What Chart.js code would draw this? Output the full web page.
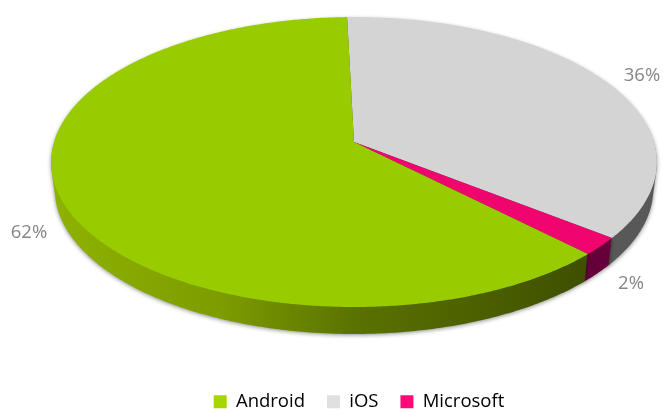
<!DOCTYPE html>
<html>
<head>
<meta charset="utf-8">
<style>
  html,body{margin:0;padding:0;background:#fff;}
  #chart{display:block;}
</style>
<script src="https://cdn.jsdelivr.net/npm/chart.js@4"></script>
</head>
<body>
<canvas id="chart" width="663" height="412"></canvas>
<script>
const platforms = ['Android','iOS','Microsoft'];
const shares = [62,36,2];

const topColors = ['#99cc00','#d4d4d4','#f0056f'];
const legendColors = ['#a6d600','#e0e0e0','#ff0a78'];
// left to right stops of the side wall
const wallStops = [
  ['#8eb200','#7c9c00','#5a7200','#3f5000'],
  ['#6a6a6a','#6a6a6a','#5c5c5c','#585858'],
  ['#66003a','#66003a','#66003a','#66003a']
];
const labelSpots = [[29,233],[642,76],[631,284]];

// tilted disc: pie centre, half sizes and perspective
const view = {cx:354, cy:142, rx:300, ry:142.2, k:-0.138, depth:27, taper:0.012};

function project(a){
  const w = 1 + view.k*Math.sin(a);
  return [view.cx + view.rx*Math.cos(a)/w, view.cy + view.ry*Math.sin(a)/w];
}

// one slice outline, dy pixels down; lower layers get a bit narrower
function wedge(ctx,arc,dy){
  const n = Math.max(4,Math.ceil((arc.endAngle-arc.startAngle)*180/Math.PI*2));
  const sx = 1 - view.taper*dy/view.depth;
  ctx.moveTo(view.cx,view.cy+dy);
  for(let i=0;i<=n;i++){
    const p = project(arc.startAngle+(arc.endAngle-arc.startAngle)*i/n);
    ctx.lineTo(view.cx+(p[0]-view.cx)*sx,p[1]+dy);
  }
  ctx.closePath();
}

const tiltedPie = {
  id:'tiltedPie',
  beforeDatasetDraw(chart,args){
    const ctx = chart.ctx;
    const arcs = args.meta.data;
    const order = [1,2,0];
    ctx.save();
    ctx.shadowColor = 'rgba(0,0,0,0.45)';
    ctx.shadowBlur = 4;
    ctx.shadowOffsetY = 1;
    order.forEach(i=>{
      const g = ctx.createLinearGradient(view.cx-view.rx,0,view.cx+view.rx,0);
      [0,0.28,0.5,0.88].forEach((s,j)=>g.addColorStop(s,wallStops[i][j]));
      ctx.fillStyle = g;
      ctx.beginPath();
      for(let d=1;d<=view.depth;d++) wedge(ctx,arcs[i],d);
      ctx.fill();
    });
    ctx.restore();
    order.forEach(i=>{
      ctx.fillStyle = topColors[i];
      ctx.beginPath();
      wedge(ctx,arcs[i],0);
      ctx.fill();
    });
    return false;
  },
  afterDraw(chart){
    const ctx = chart.ctx;
    ctx.save();
    ctx.font = '18.5px "Open Sans"';
    ctx.fillStyle = '#868686';
    ctx.textAlign = 'center';
    ctx.textBaseline = 'middle';
    shares.forEach((v,i)=>ctx.fillText(v+'%',labelSpots[i][0],labelSpots[i][1]));
    ctx.restore();
  }
};

new Chart(document.getElementById('chart'),{
  type:'pie',
  data:{
    labels:platforms,
    datasets:[{data:shares,backgroundColor:topColors,borderWidth:0}]
  },
  options:{
    responsive:false,
    animation:false,
    rotation:135.3,
    layout:{padding:{left:55,bottom:-9}},
    plugins:{
      tooltip:{enabled:false},
      legend:{
        position:'bottom',
        labels:{
          boxWidth:13,
          boxHeight:13,
          padding:22,
          color:'#2b3040',
          font:{family:'"Open Sans"',size:18.5},
          generateLabels:()=>platforms.map((t,i)=>({
            text:t,fillStyle:legendColors[i],strokeStyle:legendColors[i],lineWidth:0,index:i
          }))
        }
      }
    }
  },
  plugins:[tiltedPie]
});
</script>
</body>
</html>
